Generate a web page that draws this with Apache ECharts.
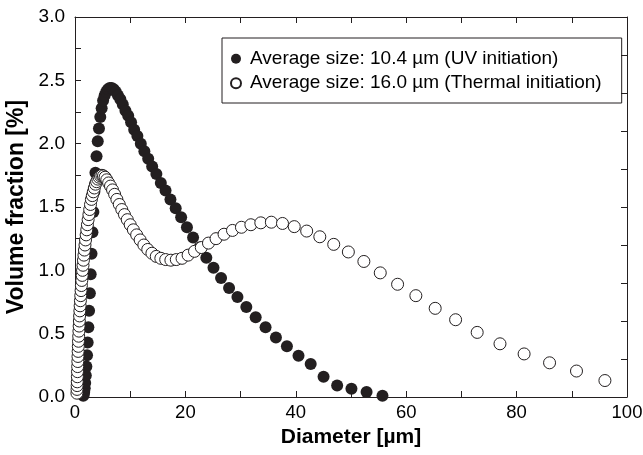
<!DOCTYPE html>
<html>
<head>
<meta charset="utf-8">
<script src="https://cdn.jsdelivr.net/npm/echarts@6/dist/echarts.min.js"></script>
<style>
  html, body { margin: 0; background: #fff; }
  #chart { width: 643px; height: 455px; }
</style>
</head>
<body>
<div id="chart"></div>
<script>
// UV initiation (filled circles)
const uvDiameter = [1.50, 1.58, 1.67, 1.76, 1.85, 1.96, 2.06, 2.18, 2.29, 2.42, 2.55, 2.69, 2.84, 2.99, 3.16, 3.33,
  3.51, 3.70, 3.90, 4.12, 4.34, 4.58, 4.83, 5.09, 5.37, 5.66, 5.97, 6.30, 6.64, 7.01, 7.39, 7.79, 8.22, 8.66,
  9.14, 9.64, 10.16, 10.72, 11.30, 11.92, 12.57, 13.26, 13.98, 14.74, 15.55, 16.40, 17.29, 18.24, 19.23, 20.28,
  21.39, 22.56, 23.79, 25.09, 26.46, 27.91, 29.43, 31.04, 32.73, 34.52, 36.40, 38.39, 40.49, 42.70, 45.03,
  47.49, 50.08, 52.82, 55.70];
const uvVolume = [0.01, 0.02, 0.04, 0.07, 0.11, 0.17, 0.24, 0.33, 0.43, 0.55, 0.68, 0.82, 0.97, 1.13, 1.30, 1.46,
  1.62, 1.77, 1.90, 2.02, 2.12, 2.21, 2.28, 2.34, 2.38, 2.41, 2.43, 2.44, 2.44, 2.43, 2.41, 2.38, 2.35, 2.31,
  2.26, 2.22, 2.17, 2.11, 2.06, 2.00, 1.94, 1.88, 1.82, 1.76, 1.69, 1.63, 1.56, 1.49, 1.42, 1.34,
  1.26, 1.18, 1.10, 1.02, 0.94, 0.86, 0.79, 0.71, 0.63, 0.55, 0.47, 0.40, 0.325, 0.26, 0.16,
  0.09, 0.065, 0.04, 0.01];

// Thermal initiation (open circles)
const thermalDiameter = [0.35, 0.37, 0.39, 0.41, 0.43, 0.45, 0.48, 0.51, 0.54, 0.57, 0.60, 0.63, 0.67, 0.71, 0.75,
  0.79, 0.83, 0.88, 0.93, 0.98, 1.04, 1.10, 1.16, 1.23, 1.30, 1.37, 1.45, 1.53, 1.62, 1.71, 1.81, 1.91, 2.02,
  2.13, 2.25, 2.38, 2.52, 2.66, 2.81, 2.97, 3.14, 3.32, 3.50, 3.70, 3.91, 4.14, 4.37, 4.62, 4.88, 5.16, 5.45,
  5.76, 6.09, 6.43, 6.80, 7.18, 7.59, 8.02, 8.48, 8.96, 9.47, 10.00, 10.57, 11.17, 11.80, 12.47, 13.18, 13.93,
  14.72, 15.55, 16.43, 17.37, 18.35, 19.39, 20.49, 21.65, 22.88, 24.18, 25.55, 27.00, 28.53, 30.15, 31.86,
  33.66, 35.57, 37.59, 39.72, 41.97, 44.35, 46.87, 49.52, 52.33, 55.30, 58.44, 61.75, 65.25, 68.95, 72.86,
  76.99, 81.36, 85.97, 90.85, 96.00];
const thermalVolume = [0.03, 0.06, 0.09, 0.12, 0.16, 0.20, 0.24, 0.28, 0.32, 0.36, 0.40, 0.44, 0.48, 0.52, 0.56,
  0.60, 0.64, 0.68, 0.72, 0.76, 0.80, 0.84, 0.88, 0.92, 0.96, 1.00, 1.04, 1.08, 1.12, 1.16, 1.20, 1.24, 1.28,
  1.32, 1.36, 1.40, 1.44, 1.48, 1.52, 1.56, 1.59, 1.62, 1.65, 1.68, 1.70, 1.72, 1.735, 1.745, 1.75, 1.745, 1.735,
  1.715, 1.69, 1.665, 1.635, 1.60, 1.56, 1.52, 1.48, 1.44, 1.40, 1.36, 1.32, 1.28, 1.24, 1.20, 1.165, 1.135,
  1.11, 1.095, 1.085, 1.08, 1.085, 1.095, 1.12, 1.15, 1.18, 1.215, 1.25, 1.285, 1.315, 1.34, 1.36,
  1.375, 1.38, 1.37, 1.345, 1.31, 1.265, 1.205, 1.145, 1.07, 0.98, 0.89, 0.80, 0.70, 0.61, 0.51,
  0.42, 0.34, 0.27, 0.205, 0.13];

const seriesNames = [
  'Average size: 10.4 µm (UV initiation)',
  'Average size: 16.0 µm (Thermal initiation)'
];
const xTickLabels = ['0', '20', '40', '60', '80', '100'];
const yTickLabels = ['0.0', '0.5', '1.0', '1.5', '2.0', '2.5', '3.0'];

const FONT = '"Liberation Sans", Arial, Helvetica, sans-serif';
const INK = '#231f20';

function pairs(xs, ys) {
  return xs.map((x, i) => [x, ys[i]]);
}

function tickLabel(labels) {
  return (value) => {
    const hit = labels.find((l) => Math.abs(parseFloat(l) - value) < 1e-6);
    return hit === undefined ? '' : hit;
  };
}

const lineStyle = { color: INK, width: 1 };

const chart = echarts.init(document.getElementById('chart'), null, { renderer: 'canvas' });

chart.setOption({
  animation: false,
  backgroundColor: '#fff',
  textStyle: { fontFamily: FONT, color: '#000' },
  grid: { left: 75, right: 16, top: 17, bottom: 58, containLabel: false, outerBoundsMode: 'none' },
  legend: {
    orient: 'vertical',
    left: 222,
    top: 38,
    data: seriesNames,
    itemWidth: 18,
    itemHeight: 10,
    itemGap: 5,
    padding: [11, 20, 10, 8],
    borderColor: INK,
    borderWidth: 1,
    selectedMode: false,
    textStyle: { fontFamily: FONT, fontSize: 19, lineHeight: 19.5, color: '#000' }
  },
  xAxis: [
    {
      type: 'value',
      min: 0,
      max: 100,
      interval: 10,
      name: 'Diameter [µm]',
      nameLocation: 'middle',
      nameGap: 29,
      nameTextStyle: { fontFamily: FONT, fontWeight: 'bold', fontSize: 21, color: '#000' },
      axisLine: { onZero: false, lineStyle },
      axisTick: { inside: true, length: 6, lineStyle },
      axisLabel: { formatter: tickLabel(xTickLabels), fontSize: 18.5, color: '#000', margin: 6 },
      splitLine: { show: false }
    },
    {
      type: 'value',
      position: 'top',
      min: 0,
      max: 100,
      interval: 10,
      axisLine: { onZero: false, lineStyle },
      axisTick: { inside: true, length: 6, lineStyle },
      axisLabel: { show: false },
      splitLine: { show: false }
    }
  ],
  yAxis: [
    {
      type: 'value',
      min: 0,
      max: 3,
      interval: 0.25,
      name: 'Volume fraction [%]',
      nameLocation: 'middle',
      nameGap: 45,
      nameTextStyle: { fontFamily: FONT, fontWeight: 'bold', fontSize: 23, color: '#000' },
      axisLine: { onZero: false, lineStyle },
      axisTick: { inside: true, length: 6, lineStyle },
      axisLabel: { formatter: tickLabel(yTickLabels), fontSize: 19, color: '#000', margin: 10 },
      splitLine: { show: false }
    },
    {
      type: 'value',
      position: 'right',
      min: 0,
      max: 3,
      interval: 0.3,
      axisLine: { onZero: false, lineStyle },
      axisTick: { inside: true, length: 6, lineStyle },
      axisLabel: { show: false },
      splitLine: { show: false }
    }
  ],
  series: [
    {
      name: seriesNames[0],
      type: 'scatter',
      symbol: 'circle',
      symbolSize: 12,
      data: pairs(uvDiameter, uvVolume),
      itemStyle: { color: INK, opacity: 1 },
      emphasis: { disabled: true }
    },
    {
      name: seriesNames[1],
      type: 'scatter',
      symbol: 'circle',
      symbolSize: 12,
      data: pairs(thermalDiameter, thermalVolume),
      itemStyle: { color: '#fff', borderColor: INK, borderWidth: 1, opacity: 1 },
      emphasis: { disabled: true }
    }
  ]
});
</script>
</body>
</html>
